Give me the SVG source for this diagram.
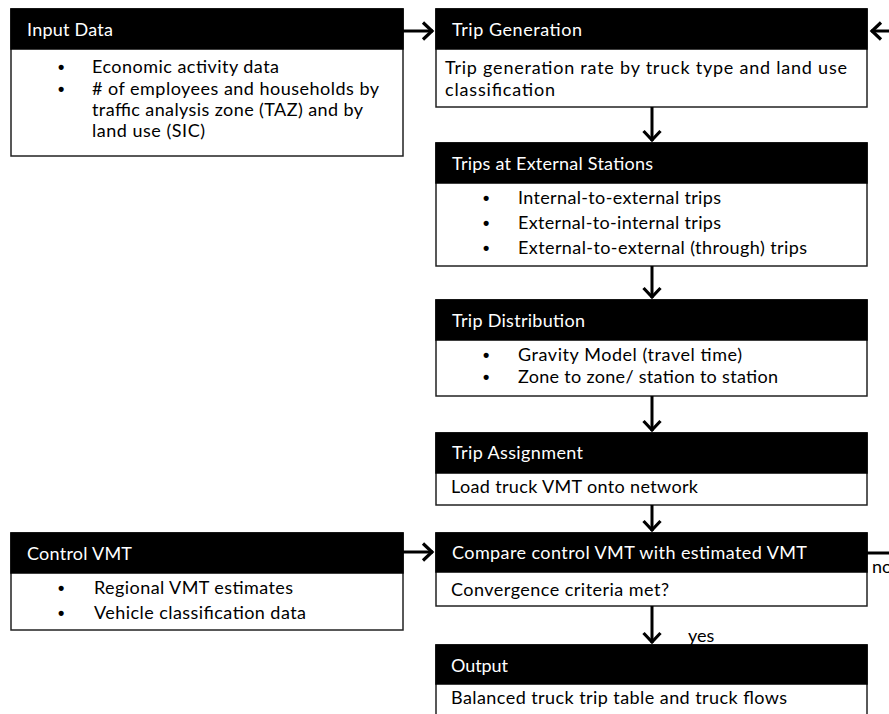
<svg xmlns="http://www.w3.org/2000/svg" width="889" height="714" viewBox="0 0 889 714">
<style>
.box{fill:#fff;stroke:#222;stroke-width:1.5}
.hdr{fill:#000;stroke:#000;stroke-width:1.5}
.ht{fill:#fff;font-family:Lato,"Liberation Sans",sans-serif;font-size:18px}
.bt{fill:#000;font-family:Lato,"Liberation Sans",sans-serif;font-size:18px}
.bul{fill:#000;font-family:"Liberation Sans",sans-serif;font-size:18px;font-weight:bold}
.con{fill:none;stroke:#000;stroke-width:3}
</style>
<defs>
<marker id="ah" markerUnits="userSpaceOnUse" markerWidth="16" markerHeight="22" refX="13" refY="11" orient="auto">
<path d="M3,2.5 L12,11 L3,19.5" fill="none" stroke="#000" stroke-width="3.2" stroke-linejoin="miter"/>
</marker>
</defs>
<rect width="889" height="714" fill="#fff"/>

<g id="input-data">
<rect class="box" x="11" y="9" width="392" height="147"/>
<rect class="hdr" x="11" y="9" width="392" height="40"/>
<text class="ht" x="27" y="36" textLength="86">Input Data</text>
<text class="bul" x="58" y="73">•</text>
<text class="bt" x="92" y="73" textLength="187">Economic activity data</text>
<text class="bul" x="58" y="95">•</text>
<text class="bt" x="92" y="95" textLength="287"># of employees and households by</text>
<text class="bt" x="92" y="116" textLength="271">traffic analysis zone (TAZ) and by</text>
<text class="bt" x="92" y="137" textLength="113">land use (SIC)</text>
</g>

<g id="trip-generation">
<rect class="box" x="436" y="9" width="431" height="98"/>
<rect class="hdr" x="436" y="9" width="431" height="40"/>
<text class="ht" x="452" y="36" textLength="130">Trip Generation</text>
<text class="bt" x="445" y="74" textLength="402">Trip generation rate by truck type and land use</text>
<text class="bt" x="445" y="96" textLength="110">classification</text>
</g>

<g id="trips-external">
<rect class="box" x="436" y="143" width="431" height="123"/>
<rect class="hdr" x="436" y="143" width="431" height="40"/>
<text class="ht" x="452" y="170" textLength="201">Trips at External Stations</text>
<text class="bul" x="483" y="204">•</text>
<text class="bt" x="518" y="204" textLength="203">Internal-to-external trips</text>
<text class="bul" x="483" y="229">•</text>
<text class="bt" x="518" y="229" textLength="203">External-to-internal trips</text>
<text class="bul" x="483" y="254">•</text>
<text class="bt" x="518" y="254" textLength="289">External-to-external (through) trips</text>
</g>

<g id="trip-distribution">
<rect class="box" x="436" y="300" width="431" height="96"/>
<rect class="hdr" x="436" y="300" width="431" height="40"/>
<text class="ht" x="452" y="327" textLength="133">Trip Distribution</text>
<text class="bul" x="483" y="361">•</text>
<text class="bt" x="518" y="361" textLength="224">Gravity Model (travel time)</text>
<text class="bul" x="483" y="383">•</text>
<text class="bt" x="518" y="383" textLength="260">Zone to zone/ station to station</text>
</g>

<g id="trip-assignment">
<rect class="box" x="436" y="433" width="431" height="72"/>
<rect class="hdr" x="436" y="433" width="431" height="40"/>
<text class="ht" x="452" y="459" textLength="131">Trip Assignment</text>
<text class="bt" x="451" y="493" textLength="247">Load truck VMT onto network</text>
</g>

<g id="compare">
<rect class="box" x="436" y="533" width="431" height="73"/>
<rect class="hdr" x="436" y="533" width="431" height="39"/>
<text class="ht" x="452" y="559" textLength="355">Compare control VMT with estimated VMT</text>
<text class="bt" x="451" y="596" textLength="218">Convergence criteria met?</text>
</g>

<g id="control-vmt">
<rect class="box" x="11" y="533" width="392" height="97"/>
<rect class="hdr" x="11" y="533" width="392" height="40"/>
<text class="ht" x="27" y="560" textLength="105">Control VMT</text>
<text class="bul" x="58" y="594">•</text>
<text class="bt" x="94" y="594" textLength="199">Regional VMT estimates</text>
<text class="bul" x="58" y="619">•</text>
<text class="bt" x="94" y="619" textLength="212">Vehicle classification data</text>
</g>

<g id="output">
<rect class="box" x="436" y="645" width="431" height="75"/>
<rect class="hdr" x="436" y="645" width="431" height="39"/>
<text class="ht" x="451" y="672" textLength="57">Output</text>
<text class="bt" x="451" y="704" textLength="336">Balanced truck trip table and truck flows</text>
</g>

<g id="connectors">
<line class="con" x1="403" y1="31" x2="433" y2="31" marker-end="url(#ah)"/>
<line class="con" x1="889" y1="31" x2="871" y2="31" marker-end="url(#ah)"/>
<line class="con" x1="652" y1="107" x2="652" y2="141" marker-end="url(#ah)"/>
<line class="con" x1="652" y1="266" x2="652" y2="298" marker-end="url(#ah)"/>
<line class="con" x1="652" y1="396" x2="652" y2="431" marker-end="url(#ah)"/>
<line class="con" x1="652" y1="505" x2="652" y2="531" marker-end="url(#ah)"/>
<line class="con" x1="403" y1="552" x2="433" y2="552" marker-end="url(#ah)"/>
<line class="con" x1="652" y1="606" x2="652" y2="643" marker-end="url(#ah)"/>
<line class="con" x1="867" y1="553" x2="889" y2="553"/>
<text class="bt" x="688" y="642">yes</text>
<text class="bt" x="872" y="573">no</text>
</g>
</svg>
